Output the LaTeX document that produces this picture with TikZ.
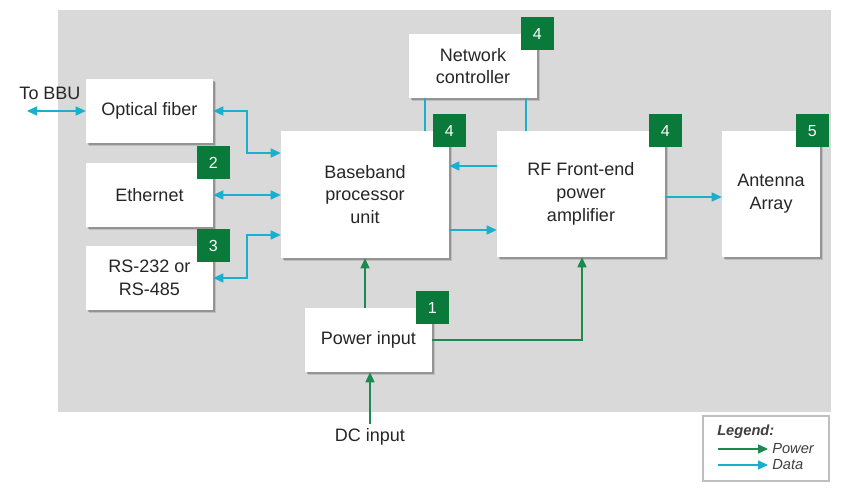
\documentclass[tikz,border=0pt]{standalone}
\usepackage{fontspec}
\setmainfont{Liberation Sans}
\usetikzlibrary{shadows,arrows.meta}
\definecolor{bg}{HTML}{D9D9D9}
\definecolor{datac}{HTML}{1AAFCC}
\definecolor{powc}{HTML}{1A8A4F}
\definecolor{badgec}{HTML}{0A7A3A}
\definecolor{txt}{HTML}{262626}
\definecolor{legtxt}{HTML}{404040}
\begin{document}
\begin{tikzpicture}[x=0.75pt,y=-0.75pt,
  blk/.style={fill=white, draw=none, inner sep=0pt, align=center, text=txt,
    font=\fontsize{13.5}{17}\selectfont,
    drop shadow={shadow xshift=2.6pt, shadow yshift=-2.6pt, fill=black, opacity=0.12},
    drop shadow={shadow xshift=1.4pt, shadow yshift=-1.4pt, fill=black, opacity=0.22}},
  badge/.style={fill=badgec, text=white, minimum width=24.75pt, minimum height=24.75pt,
    inner sep=0pt, font=\fontsize{12}{14}\selectfont},
  dataline/.style={draw=datac, line width=0.9pt},
  powline/.style={draw=powc, line width=0.9pt},
  tip/.style={-{Triangle[length=7.5pt,width=6.8pt]}},
  dtip/.style={{Triangle[length=7.5pt,width=6.8pt]}-{Triangle[length=7.5pt,width=6.8pt]}},
  leg/.style={font=\fontsize{11}{13}\selectfont\itshape, text=legtxt}
]
\useasboundingbox (0,0) rectangle (865,495);
\fill[bg] (58,10) rectangle (831,412);

% blocks
\node[blk, minimum width=95.25pt, minimum height=48pt] (fiber) at (149.5,111) {Optical fiber};
\node[blk, minimum width=95.25pt, minimum height=48pt] (eth) at (149.5,195) {Ethernet};
\node[blk, minimum width=95.25pt, minimum height=48pt] (rs) at (149.5,278) {RS-232 or\\RS-485};
\node[blk, minimum width=126pt, minimum height=95.25pt] (bb) at (365,194.5) {Baseband\\processor\\unit};
\node[blk, minimum width=96pt, minimum height=48pt] (nc) at (473,66) {Network\\controller};
\node[blk, minimum width=126pt, minimum height=94.5pt] (rf) at (581,194) {RF Front-end\\power\\amplifier};
\node[blk, minimum width=73.5pt, minimum height=94.5pt] (ant) at (771,194) {Antenna\\Array};
\node[blk, minimum width=95.25pt, minimum height=48pt] (pw) at (368.5,340) {Power input};

% badges
\node[badge] (b2) at (eth.north east) {2};
\node[badge] (b3) at (rs.north east) {3};
\node[badge] (b4a) at (bb.north east) {4};
\node[badge] (b4b) at (nc.north east) {4};
\node[badge] (b4c) at (rf.north east) {4};
\node[badge, xshift=-6pt] (b5) at (ant.north east) {5};
\node[badge] (b1) at (pw.north east) {1};

% outer labels
\node[text=txt, font=\fontsize{13.5}{17}\selectfont] (bbutxt) at (50,93) {To BBU};
\node[text=txt, font=\fontsize{13.5}{17}\selectfont] (dc) at (370,437) {DC input};
\coordinate (bbu) at (27,111);

% data connectors
\coordinate (j1) at (247,153);
\coordinate (j2) at (247,235);
\coordinate (n1) at (425,0);
\coordinate (n2) at (526,0);
\coordinate (d1) at (0,166);
\coordinate (d2) at (0,230);
\coordinate (d3) at (0,197);
\draw[dataline, dtip] (bbu) -- (fiber.west);
\draw[dataline, dtip] (fiber.east) -| (j1) -- (bb.west |- j1);
\draw[dataline, dtip] (eth.east) -- (bb.west |- eth.east);
\draw[dataline, dtip] (rs.east) -| (j2) -- (bb.west |- j2);
\draw[dataline] (nc.south -| n1) -- (bb.north -| n1);
\draw[dataline] (nc.south -| n2) -- (rf.north -| n2);
\draw[dataline, tip] (rf.west |- d1) -- (bb.east |- d1);
\draw[dataline, tip] (bb.east |- d2) -- (rf.west |- d2);
\draw[dataline, tip] (rf.east |- d3) -- (ant.west |- d3);

% power connectors
\coordinate (p1) at (365,0);
\coordinate (p3) at (582,0);
\draw[powline, tip] (pw.north -| p1) -- (bb.south -| p1);
\draw[powline, tip] (pw.east) -| (rf.south -| p3);
\draw[powline, tip] (dc.north) -- (pw.south -| dc.north);

% legend
\node[draw=black!25, fill=white, line width=0.8pt, minimum width=94.5pt, minimum height=48.75pt, inner sep=0pt] (legbox) at (766,448.5) {};
\node[leg, font=\fontsize{11}{13}\selectfont\bfseries\itshape, anchor=west, inner sep=0pt] (legt) at (717,432) {Legend:};
\coordinate (lp1) at (718,449);
\coordinate (lp2) at (768,449);
\coordinate (ld1) at (718,465);
\coordinate (ld2) at (768,465);
\draw[powline, tip] (lp1) -- (lp2);
\draw[dataline, tip] (ld1) -- (ld2);
\node[leg, anchor=west, inner sep=0pt] (lpt) at (772,449) {Power};
\node[leg, anchor=west, inner sep=0pt] (ldt) at (772,465) {Data};
\end{tikzpicture}
\end{document}
